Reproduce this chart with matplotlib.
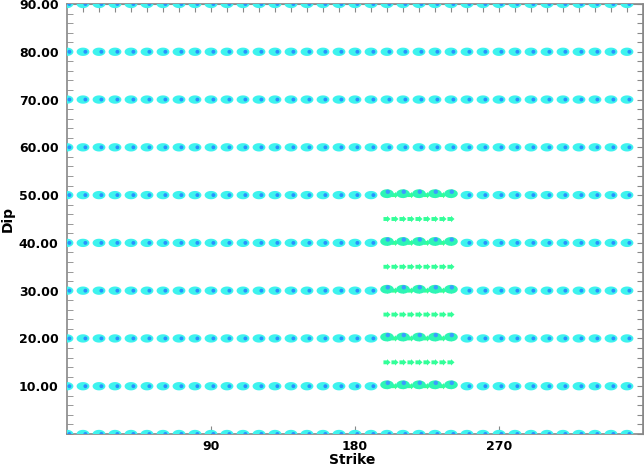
import matplotlib
matplotlib.use('Agg')
import numpy as np
import matplotlib.pyplot as plt
from matplotlib.ticker import MultipleLocator, FixedLocator, NullFormatter

# grid of trial mechanisms
strikes = [0, 10, 20, 30, 40, 50, 60, 70, 80, 90, 100, 110, 120, 130, 140, 150, 160, 170,
           180, 190, 200, 210, 220, 230, 240, 250, 260, 270, 280, 290, 300, 310, 320, 330, 340, 350]
dips = [0, 10, 20, 30, 40, 50, 60, 70, 80, 90]

# best fitting region (green)
best_strikes = [200, 210, 220, 230, 240]
best_dips = [10, 20, 30, 40, 50]

# fine search arrows
arrow_strikes = [200, 205, 210, 215, 220, 225, 230, 235, 240]
arrow_dips = [10, 15, 20, 25, 30, 35, 40, 45, 50]

y_ticks = [10, 20, 30, 40, 50, 60, 70, 80, 90]
y_labels = ['10.00', '20.00', '30.00', '40.00', '50.00', '60.00', '70.00', '80.00', '90.00']
x_ticks = [90, 180, 270]

grey = '#888888'

# marker shapes
t = np.linspace(0, 2 * np.pi, 40)
ellipse = list(zip(np.cos(t), 0.65 * np.sin(t)))
arrow = [(-1, -0.55), (0.0, -0.55), (0.0, -0.9), (1, 0), (0.0, 0.9), (0.0, 0.55), (-1, 0.55), (-1, -0.55)]

fig = plt.figure(figsize=(6.44, 4.68), dpi=100)
ax = fig.add_axes([67 / 644, 34 / 468, 576 / 644, 430 / 468])

gx, gy = [], []
for d in dips:
    for s in strikes:
        if s in best_strikes and d in best_dips:
            continue
        gx.append(s)
        gy.append(d)

ax.scatter(gx, gy, s=85, marker=ellipse, color='#3ef3ee', edgecolors='none', zorder=3)
ax.scatter([x + 1.5 for x in gx], gy, s=8, marker='o', color='#2a90ff', edgecolors='none', zorder=4)

ax_x, ax_y = [], []
for d in arrow_dips:
    for s in arrow_strikes:
        ax_x.append(s)
        ax_y.append(d)
ax.scatter(ax_x, ax_y, s=26, marker=arrow, color='#33ff99', edgecolors='none', zorder=5)

bx, by = [], []
for d in best_dips:
    for s in best_strikes:
        bx.append(s)
        by.append(d)
ax.scatter(bx, [y + 0.3 for y in by], s=95, marker=ellipse, color='#2ef5b5', edgecolors='none', zorder=6)
ax.scatter([x + 0.5 for x in bx], [y + 0.7 for y in by], s=10, marker='o', color='#3a9cff',
           edgecolors='none', zorder=7)

ax.set_xlim(0, 360)
ax.set_ylim(0, 90)

for sp in ax.spines.values():
    sp.set_color(grey)
    sp.set_linewidth(1.2)

ax.set_xticks(x_ticks)
ax.set_xticklabels([str(t) for t in x_ticks], fontweight='bold', fontsize=9)
ax.set_yticks(y_ticks)
ax.set_yticklabels(y_labels, fontweight='bold', fontsize=9)
ax.yaxis.set_minor_locator(MultipleLocator(2))
ax.tick_params(axis='both', which='major', direction='in', length=6, color=grey, pad=4)
ax.tick_params(axis='y', which='minor', direction='in', length=4, color=grey)
ax.tick_params(axis='y', which='major', length=0, pad=6)

top = ax.secondary_xaxis('top')
top.xaxis.set_major_locator(FixedLocator(strikes[1:]))
top.xaxis.set_major_formatter(NullFormatter())
top.tick_params(direction='in', length=6, color=grey)
top.spines['top'].set_color(grey)

right = ax.secondary_yaxis('right')
right.yaxis.set_major_locator(MultipleLocator(2))
right.yaxis.set_major_formatter(NullFormatter())
right.tick_params(direction='in', length=4, color=grey)
right.spines['right'].set_color(grey)

ax.set_xlabel('Strike', fontweight='bold', fontsize=10, va='center')
ax.xaxis.set_label_coords(0.495, -0.061)
ax.set_ylabel('Dip', fontweight='bold', fontsize=10, va='center')
ax.yaxis.set_label_coords(-0.102, 0.5)

fig.savefig('out.png', dpi=100)
